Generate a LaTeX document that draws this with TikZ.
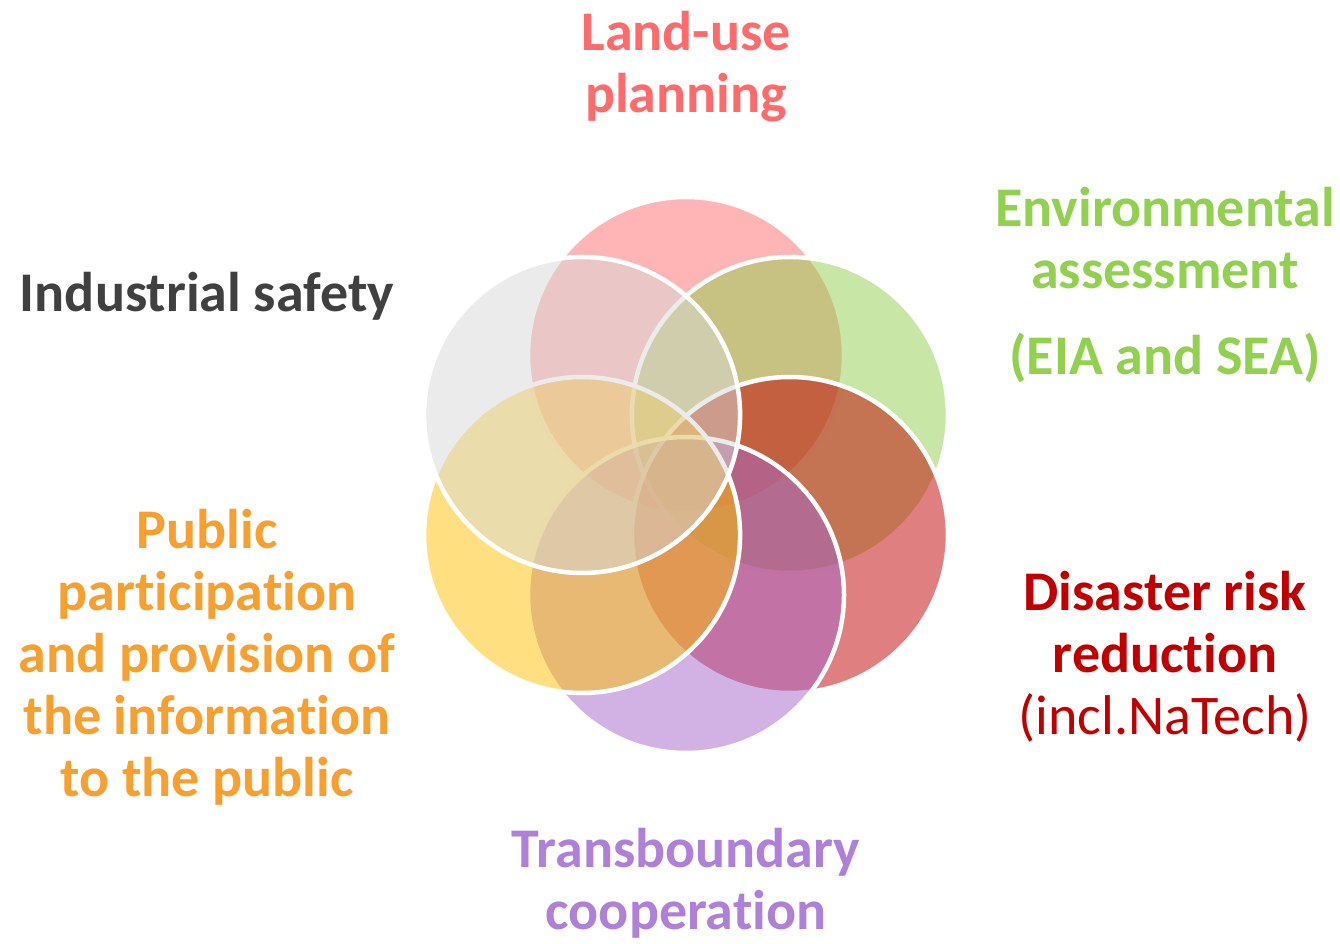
\documentclass[tikz,border=0pt]{standalone}
\usepackage{fontspec}
\setmainfont{Carlito}[Ligatures={NoCommon}]
\usetikzlibrary{positioning}

\definecolor{landuse}{HTML}{FF6B6B}
\definecolor{envir}{HTML}{92D050}
\definecolor{disaster}{HTML}{C00000}
\definecolor{transb}{HTML}{A566CC}
\definecolor{transbtxt}{HTML}{B07FD8}
\definecolor{public}{HTML}{FFC000}
\definecolor{publictxt}{HTML}{F7A030}
\definecolor{safety}{HTML}{D8D8D8}
\definecolor{safetytxt}{HTML}{404040}

\begin{document}
\begin{tikzpicture}[
    x=1pt, y=1pt,
    petal/.style={circle, draw=white, line width=4.5pt, fill opacity=0.5, draw opacity=1, minimum size=316pt, inner sep=0pt},
    topic/.style={align=center, anchor=base, inner sep=0pt, font=\fontsize{56}{62}\selectfont\bfseries}
]
\useasboundingbox (0,0) rectangle (1340,943);

% Centre of the flower
\coordinate (hub) at (686,468);

% Petals, clockwise from the top
\node[petal, fill=landuse] (landc) at ([shift={(90:120)}]hub) {};
\node[petal, fill=envir] (envc) at ([shift={(30:120)}]hub) {};
\node[petal, fill=disaster] (disc) at ([shift={(-30:120)}]hub) {};
\node[petal, fill=transb] (trac) at ([shift={(-90:120)}]hub) {};
\node[petal, fill=public] (pubc) at ([shift={(210:120)}]hub) {};
\node[petal, fill=safety] (safc) at ([shift={(150:120)}]hub) {};

% Topics (placed at the baseline of the last line)
\node[topic, text=landuse] (landt) at (686,830) {Land-use\\planning};
\node[topic, text=envir] (envt) at (1165,568) {Environmental\\assessment\\[24pt](EIA and SEA)};
\node[topic, text=disaster] (dist) at (1165,209) {Disaster risk\\reduction\\{\mdseries(incl.NaTech)}};
\node[topic, text=transbtxt] (trat) at (686,14) {Transboundary\\cooperation};
\node[topic, text=publictxt] (pubt) at (207,147) {Public\\participation\\and provision of\\the information\\to the public};
\node[topic, text=safetytxt] (saft) at (207,631) {Industrial safety};

\end{tikzpicture}
\end{document}
